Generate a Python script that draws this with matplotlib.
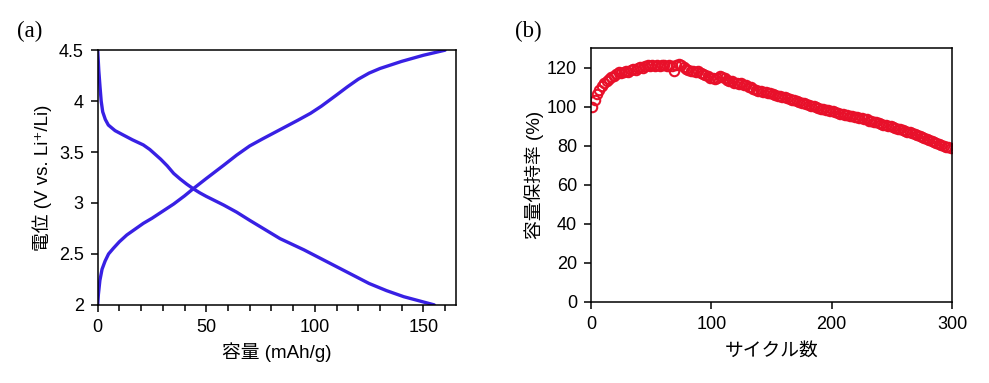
import matplotlib
matplotlib.use('Agg')
import matplotlib.pyplot as plt
from matplotlib.ticker import MultipleLocator
import numpy as np

plt.rcParams['font.family'] = ['Liberation Sans', 'Noto Sans CJK JP', 'DejaVu Sans']

# (a) charge / discharge curves
charge_cap = [0, 0.3, 1.0, 2, 3.4, 5, 7.2, 10, 13.4, 17, 21, 25, 30, 35, 40, 44, 50, 58, 64, 70,
              76, 84, 92, 98, 103, 110, 115, 120, 125, 130, 135, 140, 145, 150, 155, 160]
charge_v = [2.0, 2.1, 2.24, 2.35, 2.43, 2.50, 2.555, 2.62, 2.686, 2.74, 2.80, 2.85, 2.92, 2.99, 3.07,
            3.14, 3.24, 3.37, 3.47, 3.56, 3.63, 3.72, 3.81, 3.88, 3.95, 4.06, 4.14, 4.215, 4.275,
            4.32, 4.355, 4.39, 4.42, 4.45, 4.475, 4.5]
dis_cap = [0, 0.5, 1.06, 1.6, 2.3, 3.5, 4.9, 8, 11.8, 16, 21, 24, 29, 32, 35, 38, 41, 44, 47, 50,
           58, 64, 70, 77, 84, 95, 110, 125, 133, 141, 148, 155]
dis_v = [4.5, 4.3, 4.14, 4.0, 3.895, 3.82, 3.765, 3.71, 3.667, 3.62, 3.57, 3.525, 3.43, 3.365,
         3.29, 3.235, 3.185, 3.14, 3.10, 3.065, 2.98, 2.91, 2.83, 2.74, 2.65, 2.54, 2.375, 2.21,
         2.14, 2.08, 2.04, 2.0]

# (b) capacity retention, every 2nd cycle
cycles = np.arange(1, 300, 2)
retention = [100.0, 103.5, 106.5, 108.5, 110.5, 112.0, 113.2, 114.0, 115.2, 116.0,
             116.8, 117.6, 117.2, 118.0, 118.4, 118.0, 118.8, 119.2, 118.9, 119.7,
             120.3, 120.0, 120.8, 121.2, 120.9, 121.5, 121.1, 121.4, 120.8, 121.3,
             121.6, 121.1, 121.5, 121.0, 118.6, 121.6, 121.9, 121.2, 120.4, 119.6,
             119.0, 118.2, 118.6, 117.8, 118.3, 117.5, 116.8, 116.2, 115.6, 115.0,
             114.6, 114.3, 115.0, 115.6, 115.3, 114.6, 113.8, 113.1, 113.0, 112.3,
             112.4, 111.9, 112.0, 111.4, 111.0, 110.3, 109.9, 109.2, 108.7, 108.2,
             108.3, 107.6, 107.5, 107.0, 107.1, 106.5, 106.3, 105.7, 105.6, 105.0,
             104.9, 104.3, 104.2, 103.6, 103.5, 102.9, 102.7, 102.0, 101.9, 101.3,
             101.1, 100.5, 100.4, 99.8, 99.6, 99.0, 99.0, 98.4, 98.3, 97.7,
             97.6, 97.1, 97.0, 96.5, 96.4, 96.0, 95.9, 95.4, 95.4, 95.0,
             94.8, 94.3, 94.3, 93.7, 93.5, 92.9, 92.8, 92.2, 92.0, 91.5,
             91.3, 90.8, 90.6, 90.1, 90.0, 89.5, 89.3, 88.7, 88.5, 87.9,
             87.7, 87.1, 87.0, 86.5, 86.2, 85.6, 85.3, 84.6, 84.2, 83.6,
             83.1, 82.5, 82.0, 81.4, 80.9, 80.4, 80.0, 79.6, 79.2, 78.9]

BLUE = '#3820e4'
RED = '#e8102a'
TFS = 13
LFS = 13.5

fig = plt.figure(figsize=(9.89, 3.83), dpi=100)
ax1 = fig.add_axes([0.0988, 0.204, 0.3622, 0.665])
ax2 = fig.add_axes([0.5976, 0.2115, 0.365, 0.6625])

ax1.plot(charge_cap, charge_v, color=BLUE, lw=2.4, solid_capstyle='round')
ax1.plot(dis_cap, dis_v, color=BLUE, lw=2.4, solid_capstyle='round')
ax1.set_xlim(0, 165)
ax1.set_ylim(2, 4.5)
ax1.xaxis.set_major_locator(MultipleLocator(50))
ax1.xaxis.set_minor_locator(MultipleLocator(10))
ax1.set_yticks([2, 2.5, 3, 3.5, 4, 4.5])
ax1.set_yticklabels(['2', '2.5', '3', '3.5', '4', '4.5'])
ax1.set_xlabel('容量 (mAh/g)', fontsize=LFS, labelpad=5)
ax1.set_ylabel('電位 (V vs. Li⁺/Li)', fontsize=LFS, labelpad=5)

ax2.plot(cycles, retention, 'o', mfc='none', mec=RED, mew=1.5, ms=6.8)
ax2.set_xlim(0, 300)
ax2.set_ylim(0, 130)
ax2.xaxis.set_major_locator(MultipleLocator(100))
ax2.yaxis.set_major_locator(MultipleLocator(20))
ax2.set_xlabel('サイクル数', fontsize=LFS, labelpad=7)
ax2.set_ylabel('容量保持率 (%)', fontsize=LFS, labelpad=2)

for ax in (ax1, ax2):
    for s in ax.spines.values():
        s.set_linewidth(1.1)
    ax.tick_params(which='major', direction='out', length=5, width=1.1, labelsize=TFS, pad=5)
    ax.tick_params(which='minor', direction='out', length=4, width=1.1)

fig.text(0.017, 0.917, '(a)', fontsize=16.5, family='Liberation Serif', va='center')
fig.text(0.521, 0.917, '(b)', fontsize=16.5, family='Liberation Serif', va='center')

fig.savefig('out.png', dpi=100, facecolor='white')
